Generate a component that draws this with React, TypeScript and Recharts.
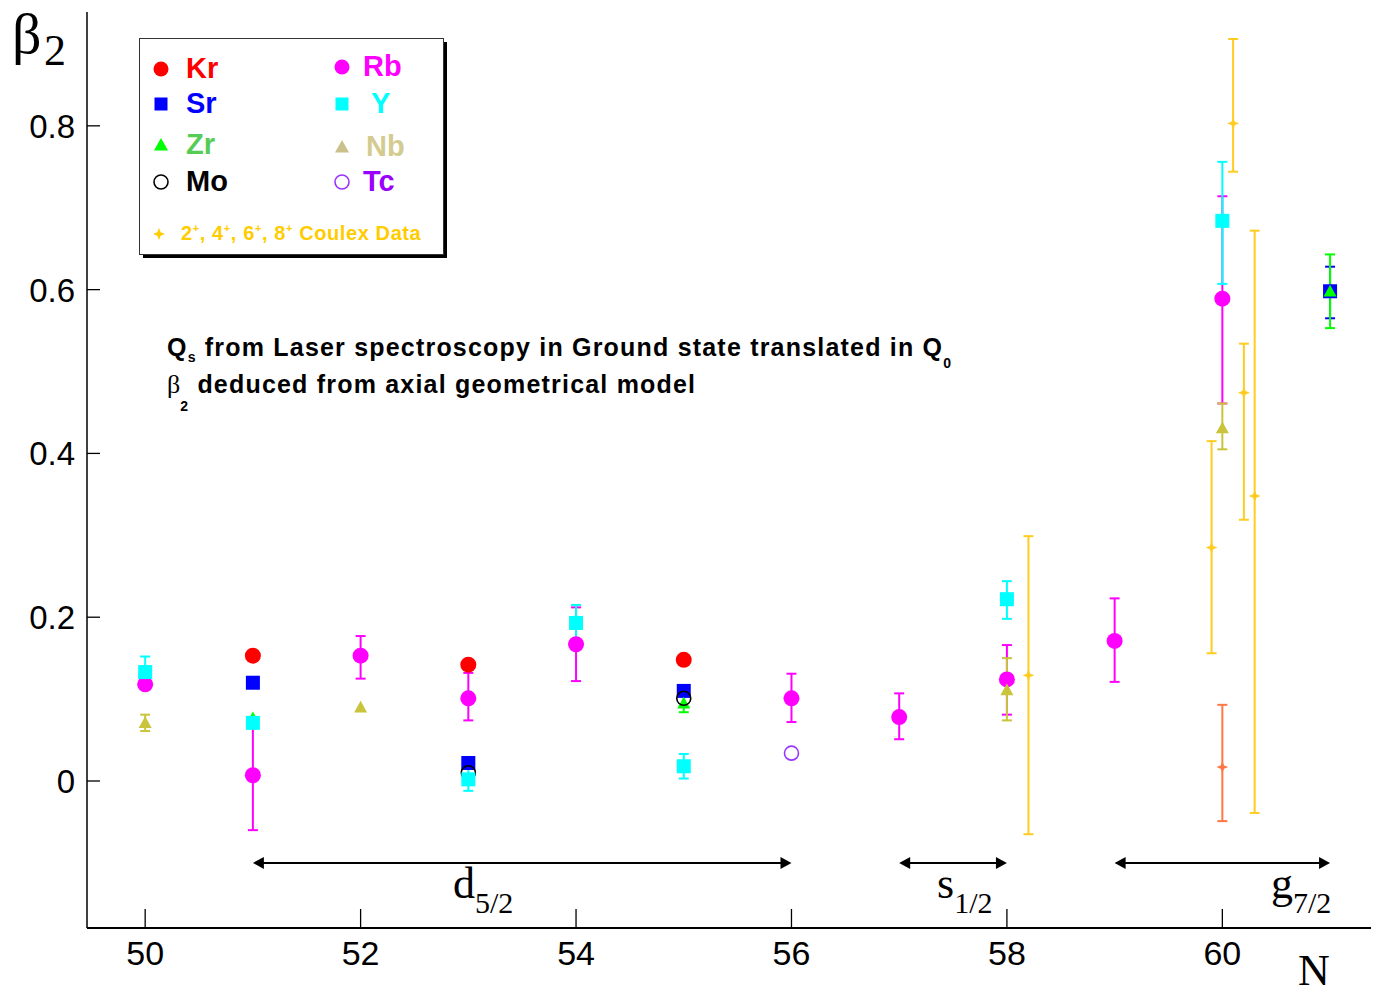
import { ScatterChart, Scatter, XAxis, YAxis, ErrorBar, ReferenceLine } from 'recharts';

const SANS = '"Liberation Sans", Arial, Helvetica, sans-serif';
const SERIF = '"Liberation Serif", "Times New Roman", serif';

const xTicks = [50, 52, 54, 56, 58, 60];
const yTicks = [0, 0.2, 0.4, 0.6, 0.8];

// neutron number N, beta2, error [minus, plus] (null = no bar)
const krN = [51, 53, 55];
const krBeta = [0.153, 0.142, 0.148];

const srN = [51, 53, 55, 61];
const srBeta = [0.12, 0.022, 0.11, 0.598];
const srErr = [null, null, null, [0.033, 0.03]];

const zrN = [51, 55, 61];
const zrBeta = [0.077, 0.095, 0.598];
const zrErr = [null, [0.011, 0.011], [0.045, 0.045]];

const moN = [53, 55];
const moBeta = [0.01, 0.101];

const rbN = [50, 51, 52, 53, 54, 56, 57, 58, 59, 60];
const rbBeta = [0.118, 0.007, 0.153, 0.101, 0.167, 0.101, 0.078, 0.124, 0.171, 0.589];
const rbErr = [
  null, [0.067, 0.067], [0.028, 0.024], [0.027, 0.031], [0.045, 0.045],
  [0.029, 0.03], [0.027, 0.029], [0.043, 0.042], [0.05, 0.052], [0.128, 0.125],
];

const yN = [50, 51, 53, 54, 55, 58, 60];
const yBeta = [0.133, 0.071, 0.002, 0.193, 0.018, 0.222, 0.684];
const yErr = [
  [0.018, 0.019], null, [0.014, 0.014], [0.023, 0.022], [0.015, 0.015], [0.024, 0.022], [0.077, 0.072],
];

const nbN = [50, 52, 58, 60];
const nbBeta = [0.071, 0.09, 0.111, 0.431];
const nbErr = [[0.01, 0.01], null, [0.037, 0.039], [0.026, 0.03]];

const tcN = [56];
const tcBeta = [0.034];

// Coulex data (slightly shifted in N)
const coulexN = [58.2, 59.9, 60.1, 60.2, 60.3];
const coulexBeta = [0.129, 0.285, 0.803, 0.474, 0.348];
const coulexErr = [[0.194, 0.17], [0.129, 0.13], [0.059, 0.103], [0.155, 0.06], [0.387, 0.324]];

const coulexLowN = [60.0];
const coulexLowBeta = [0.017];
const coulexLowErr = [[0.066, 0.076]];

// shell-model orbitals
const shellFrom = [51, 57, 59];
const shellTo = [56, 58, 61];
const shellName = ['d', 's', 'g'];
const shellLevel = -0.1;

const zip = (ns: number[], bs: number[], errs?: (number[] | null)[]) =>
  ns.map((n, i) => ({ n, b: bs[i], err: errs ? errs[i] : null }));

const C = {
  kr: '#ff0000',
  sr: '#0000ff',
  zr: '#00ff00',
  mo: '#000000',
  rb: '#ff00ff',
  y: '#00ffff',
  nb: '#c9c43c',
  tc: '#9933ff',
  coulex: '#ffcc22',
  coulexLow: '#ff7744',
};

const dot = (color: string, r = 8) => (p: any) => <circle cx={p.cx} cy={p.cy} r={r} fill={color} />;
const square = (color: string, h = 7) => (p: any) => (
  <rect x={p.cx - h} y={p.cy - h} width={h * 2} height={h * 2} fill={color} />
);
const tri = (color: string, s = 7) => (p: any) => (
  <polygon points={`${p.cx},${p.cy - s} ${p.cx - s},${p.cy + s * 0.8} ${p.cx + s},${p.cy + s * 0.8}`} fill={color} />
);
const ring = (color: string, r = 7) => (p: any) => (
  <circle cx={p.cx} cy={p.cy} r={r} fill="none" stroke={color} strokeWidth={1.6} />
);
const starPts = (cx: number, cy: number, r: number) => {
  const pts: string[] = [];
  for (let i = 0; i < 8; i++) {
    const a = (Math.PI / 4) * i - Math.PI / 2;
    const rr = i % 2 === 0 ? r : r * 0.4;
    pts.push(`${cx + rr * Math.cos(a)},${cy + rr * Math.sin(a)}`);
  }
  return pts.join(' ');
};
const star = (color: string, r = 6) => (p: any) => <polygon points={starPts(p.cx, p.cy, r)} fill={color} />;

const XTick = ({ x, y, payload }: any) => (
  <g>
    <line x1={x} y1={y} x2={x} y2={y - 19} stroke="#000" strokeWidth={1.3} />
    <text x={x} y={y + 37} textAnchor="middle" fontSize={34} fontFamily={SANS} fill="#000">
      {payload.value}
    </text>
  </g>
);

const YTick = ({ x, y, payload }: any) => (
  <g>
    <line x1={x} y1={y} x2={x + 13} y2={y} stroke="#000" strokeWidth={1.3} />
    <text x={x - 12} y={y + 12} textAnchor="end" fontSize={33} fontFamily={SANS} fill="#000">
      {payload.value}
    </text>
  </g>
);

const Arrow = (p: any) => {
  const { x1, y1, x2 } = p;
  return (
    <g>
      <line x1={x1 + 8} y1={y1} x2={x2 - 8} y2={y1} stroke="#000" strokeWidth={2} />
      <polygon points={`${x1},${y1} ${x1 + 11},${y1 - 6} ${x1 + 11},${y1 + 6}`} fill="#000" />
      <polygon points={`${x2},${y1} ${x2 - 11},${y1 - 6} ${x2 - 11},${y1 + 6}`} fill="#000" />
    </g>
  );
};

const legendLeft = [
  { name: 'Kr', color: C.kr, text: '#ff0000', shape: 'dot', y: 69 },
  { name: 'Sr', color: C.sr, text: '#0000ff', shape: 'square', y: 104 },
  { name: 'Zr', color: C.zr, text: '#55cc55', shape: 'tri', y: 145 },
  { name: 'Mo', color: '#000', text: '#000000', shape: 'ring', y: 182 },
];
const legendRight = [
  { name: 'Rb', color: C.rb, text: '#ff00ff', shape: 'dot', y: 67, dx: 21 },
  { name: 'Y', color: C.y, text: '#00ffff', shape: 'square', y: 104, dx: 29 },
  { name: 'Nb', color: '#cbc08c', text: '#d4cb8f', shape: 'tri', y: 147, dx: 24 },
  { name: 'Tc', color: C.tc, text: '#9900ff', shape: 'ring', y: 182, dx: 21 },
];

const legendMarker = (shape: string, color: string, cx: number, cy: number) => {
  const p = { cx, cy };
  if (shape === 'dot') return dot(color, 7.5)(p);
  if (shape === 'square') return square(color, 6.5)(p);
  if (shape === 'tri') return tri(color, 7)(p);
  return ring(color, 7)(p);
};

export default function App() {
  return (
    <div style={{ position: 'absolute', left: 0, top: 0, width: 1373, height: 995, background: '#fff' }}>
      <ScatterChart width={1373} height={995} margin={{ top: 12, right: 2, left: 0, bottom: 0 }}>
        <XAxis
          xAxisId="top"
          orientation="top"
          type="number"
          dataKey="n"
          domain={[49.46, 61.38]}
          allowDataOverflow
          height={0}
          tick={false}
          tickLine={false}
          axisLine={{ stroke: '#000', strokeWidth: 1.5 }}
        />
        <XAxis
          type="number"
          dataKey="n"
          domain={[49.46, 61.38]}
          allowDataOverflow
          ticks={xTicks}
          height={67}
          tickSize={0}
          tickMargin={0}
          tickLine={false}
          tick={<XTick />}
          axisLine={{ stroke: '#000', strokeWidth: 2 }}
        />
        <YAxis
          type="number"
          dataKey="b"
          domain={[-0.1795, 0.939]}
          allowDataOverflow
          ticks={yTicks}
          width={87}
          tickSize={0}
          tickMargin={0}
          tickLine={false}
          tick={<YTick />}
          axisLine={{ stroke: '#000', strokeWidth: 1.5 }}
        />

        {shellFrom.map((f, i) => (
          <ReferenceLine
            key={shellName[i]}
            segment={[{ x: f, y: shellLevel }, { x: shellTo[i], y: shellLevel }]}
            shape={Arrow}
          />
        ))}

        <Scatter data={zip(krN, krBeta)} shape={dot(C.kr)} isAnimationActive={false} />
        <Scatter data={zip(srN, srBeta, srErr)} shape={square(C.sr)} isAnimationActive={false}>
          <ErrorBar dataKey="err" direction="y" width={5} stroke={C.sr} strokeWidth={2} isAnimationActive={false} />
        </Scatter>
        <Scatter data={zip(rbN, rbBeta, rbErr)} shape={dot(C.rb)} isAnimationActive={false}>
          <ErrorBar dataKey="err" direction="y" width={5} stroke={C.rb} strokeWidth={2} isAnimationActive={false} />
        </Scatter>
        <Scatter data={zip(zrN, zrBeta, zrErr)} shape={tri(C.zr, 6.5)} isAnimationActive={false}>
          <ErrorBar dataKey="err" direction="y" width={5} stroke={C.zr} strokeWidth={2} isAnimationActive={false} />
        </Scatter>
        <Scatter data={zip(moN, moBeta)} shape={ring(C.mo)} isAnimationActive={false} />
        <Scatter data={zip(yN, yBeta, yErr)} shape={square(C.y)} isAnimationActive={false}>
          <ErrorBar dataKey="err" direction="y" width={5} stroke={C.y} strokeWidth={2} isAnimationActive={false} />
        </Scatter>
        <Scatter data={zip(nbN, nbBeta, nbErr)} shape={tri(C.nb, 6.5)} isAnimationActive={false}>
          <ErrorBar dataKey="err" direction="y" width={5} stroke={C.nb} strokeWidth={2} isAnimationActive={false} />
        </Scatter>
        <Scatter data={zip(tcN, tcBeta)} shape={ring(C.tc)} isAnimationActive={false} />
        <Scatter data={zip(coulexN, coulexBeta, coulexErr)} shape={star(C.coulex)} isAnimationActive={false}>
          <ErrorBar dataKey="err" direction="y" width={5} stroke={C.coulex} strokeWidth={2} isAnimationActive={false} />
        </Scatter>
        <Scatter data={zip(coulexLowN, coulexLowBeta, coulexLowErr)} shape={star(C.coulexLow)} isAnimationActive={false}>
          <ErrorBar dataKey="err" direction="y" width={5} stroke={C.coulexLow} strokeWidth={2} isAnimationActive={false} />
        </Scatter>
      </ScatterChart>

      <svg width={1373} height={995} style={{ position: 'absolute', left: 0, top: 0, pointerEvents: 'none' }}>
        {/* axis titles */}
        <text x={12} y={53} fontFamily={SERIF} fontSize={58} fill="#000">β</text>
        <text x={44} y={65} fontFamily={SERIF} fontSize={44} fill="#000">2</text>
        <text x={1298} y={985} fontFamily={SERIF} fontSize={44} fill="#000">N</text>

        {/* orbital labels */}
        <text x={453} y={898} fontFamily={SERIF} fontSize={44} fill="#000">
          d<tspan fontSize={30} dy={15}>5/2</tspan>
        </text>
        <text x={937} y={898} fontFamily={SERIF} fontSize={44} fill="#000">
          s<tspan fontSize={30} dy={15}>1/2</tspan>
        </text>
        <text x={1271} y={898} fontFamily={SERIF} fontSize={44} fill="#000">
          g<tspan fontSize={30} dy={15}>7/2</tspan>
        </text>

        {/* annotation */}
        <text x={167} y={356} fontFamily={SANS} fontWeight="bold" fontSize={25} letterSpacing={1.2} fill="#000">
          Q<tspan fontSize={14} dy={6}>s</tspan>
          <tspan dy={-6}> from Laser spectroscopy in Ground state translated in Q</tspan>
          <tspan fontSize={14} dy={12}>0</tspan>
        </text>
        <text x={167} y={393} fontFamily={SANS} fontWeight="bold" fontSize={25} letterSpacing={1.2} fill="#000">
          <tspan fontFamily={SERIF} fontWeight="normal" fontSize={26} letterSpacing={0}>β</tspan>
          <tspan fontSize={14} dy={18}>2</tspan>
          <tspan dy={-18}> deduced from axial geometrical model</tspan>
        </text>

        {/* legend */}
        <rect x={143} y={42} width={304} height={216} fill="#000" />
        <rect x={139.5} y={38.5} width={304} height={216} fill="#fff" stroke="#333" strokeWidth={1} />
        {legendLeft.map(d => (
          <g key={d.name}>
            {legendMarker(d.shape, d.color, 161, d.y)}
            <text x={186} y={d.y + 9} fontFamily={SANS} fontWeight="bold" fontSize={29} fill={d.text}>
              {d.name}
            </text>
          </g>
        ))}
        {legendRight.map(d => (
          <g key={d.name}>
            {legendMarker(d.shape, d.color, 342, d.y)}
            <text x={342 + d.dx} y={d.y + 9} fontFamily={SANS} fontWeight="bold" fontSize={29} fill={d.text}>
              {d.name}
            </text>
          </g>
        ))}
        <polygon points={starPts(159, 234, 6)} fill="#ffcc00" />
        <text x={181} y={240} fontFamily={SANS} fontWeight="bold" fontSize={20} letterSpacing={0.6} fill="#ffcc00">
          2<tspan fontSize={11} dy={-8}>+</tspan>
          <tspan dy={8}>, 4</tspan>
          <tspan fontSize={11} dy={-8}>+</tspan>
          <tspan dy={8}>, 6</tspan>
          <tspan fontSize={11} dy={-8}>+</tspan>
          <tspan dy={8}>, 8</tspan>
          <tspan fontSize={11} dy={-8}>+</tspan>
          <tspan dy={8}> Coulex Data</tspan>
        </text>
      </svg>
    </div>
  );
}
